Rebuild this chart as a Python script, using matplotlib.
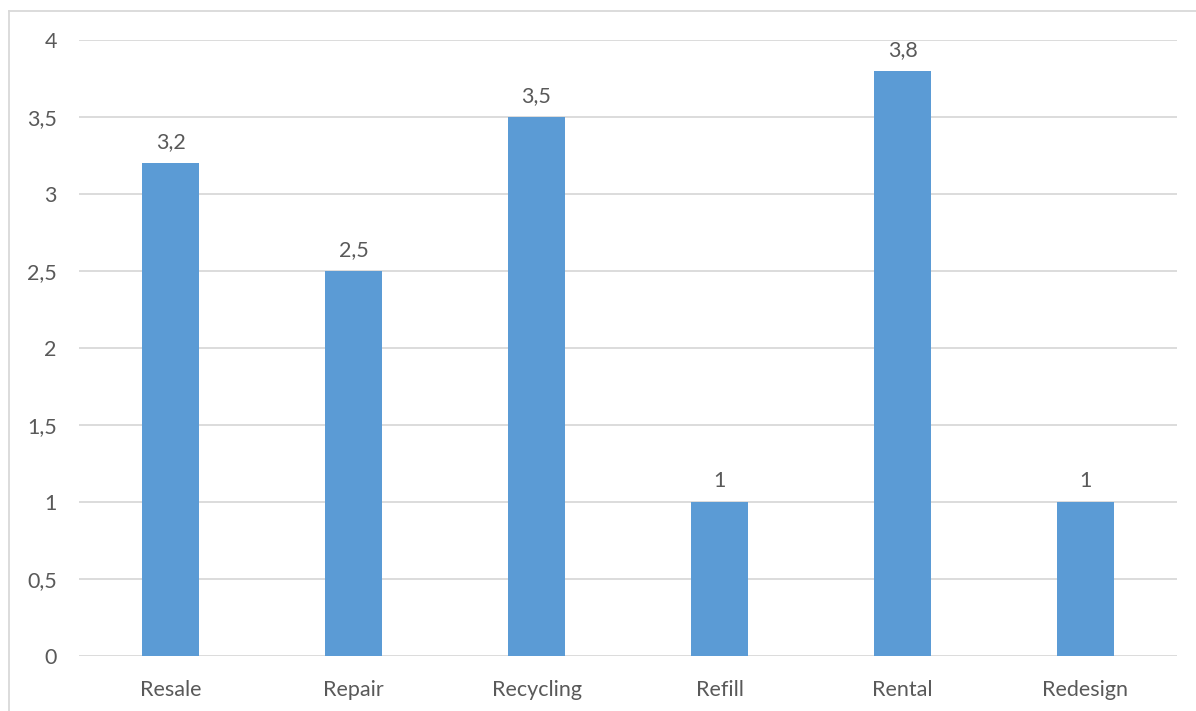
import matplotlib
matplotlib.use("Agg")
import matplotlib.pyplot as plt
from matplotlib.lines import Line2D

categories = ["Resale", "Repair", "Recycling", "Refill", "Rental", "Redesign"]
values = [3.2, 2.5, 3.5, 1, 3.8, 1]
y_ticks = [0, 0.5, 1, 1.5, 2, 2.5, 3, 3.5, 4]

bar_color = "#5B9BD5"
text_color = "#595959"
grid_color = "#D9D9D9"

plt.rcParams["font.family"] = ["Lato", "DejaVu Sans"]


def fmt(v):
    s = f"{v:g}"
    return s.replace(".", ",")


W, H = 1196, 711
fig = plt.figure(figsize=(W / 100, H / 100), dpi=100)
ax = fig.add_axes([79 / W, 1 - 656 / H, (1177 - 79) / W, (656 - 40) / H])

x = list(range(len(categories)))
bars = ax.bar(x, values, width=0.31, color=bar_color, zorder=3)

ax.set_xlim(-0.5, len(categories) - 0.5)
ax.set_ylim(0, 4)
ax.set_yticks(y_ticks)
ax.set_yticklabels([fmt(t) for t in y_ticks])
ax.set_xticks(x)
ax.set_xticklabels(categories)

ax.grid(axis="y", color=grid_color, linewidth=1.3, zorder=0)
for s in ax.spines.values():
    s.set_visible(False)
ax.tick_params(axis="both", length=0, labelsize=15.5, colors=text_color)
ax.tick_params(axis="y", pad=16)
ax.tick_params(axis="x", pad=17)

for xi, v in zip(x, values):
    ax.annotate(fmt(v), (xi, v), xytext=(0, 8), textcoords="offset points",
                ha="center", va="bottom", fontsize=15.5, color=text_color)

# outer chart frame (left and top edges)
fig.add_artist(Line2D([8.5 / W, 8.5 / W], [0, 1 - 11 / H], transform=fig.transFigure,
                      color="#D9D9D9", linewidth=1.3))
fig.add_artist(Line2D([8.5 / W, 1], [1 - 11 / H, 1 - 11 / H], transform=fig.transFigure,
                      color="#D9D9D9", linewidth=1.3))

fig.savefig("out.png", dpi=100)
